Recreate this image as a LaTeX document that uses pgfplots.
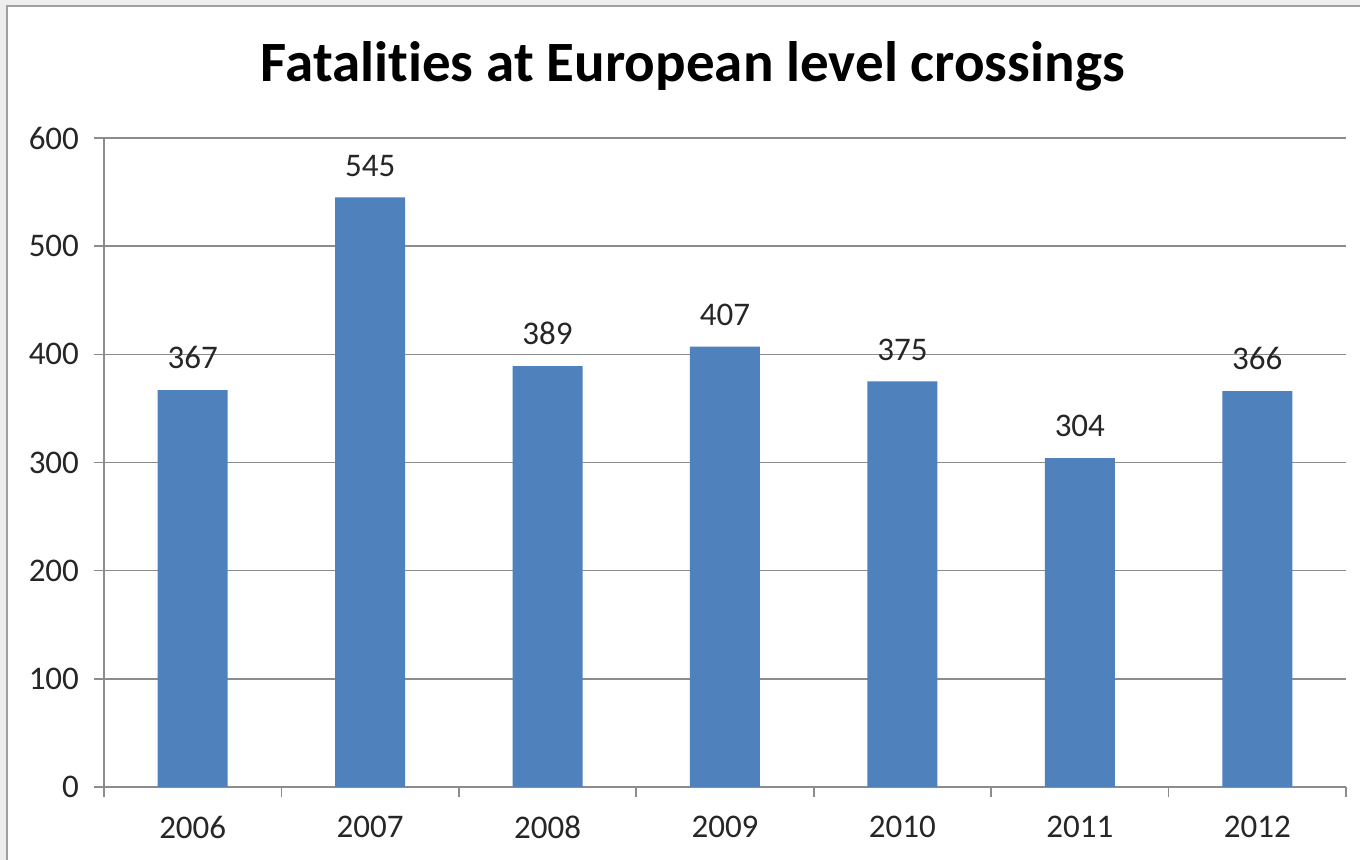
\documentclass[border=0pt]{standalone}
\usepackage{fontspec}
\setmainfont{Carlito}[Ligatures=NoCommon]
\usepackage{pgfplots}
\pgfplotsset{compat=1.18}
\definecolor{barblue}{HTML}{4F81BD}
\definecolor{gridgray}{HTML}{8C8C8C}
\definecolor{framegray}{HTML}{A0A0A0}
\definecolor{bggray}{HTML}{EEEEEE}
\begin{document}
\begin{tikzpicture}
\path[use as bounding box] (0pt,0pt) rectangle (680pt,430pt);
\fill[bggray] (0pt,0pt) rectangle (680pt,430pt);
\fill[white] (3.5pt,0pt) rectangle (680pt,427pt);
\draw[framegray, line width=0.8pt] (3.5pt,0pt) -- (3.5pt,427pt) -- (680pt,427pt);
\begin{axis}[
  at={(52pt,36.5pt)}, anchor=south west,
  scale only axis,
  width=621pt, height=324.5pt,
  xmin=-0.5, xmax=6.5,
  ymin=0, ymax=600,
  ytick={0,100,...,600},
  xtick={0,...,6},
  xticklabels={2006,2007,2008,2009,2010,2011,2012},
  minor xtick={-0.5,0.5,...,6.5},
  axis x line*=bottom, axis y line*=left,
  axis line style={gridgray, line width=0.8pt},
  ymajorgrids, major grid style={gridgray, line width=0.8pt},
  tick align=outside,
  major tick length=5pt, minor tick length=5pt,
  x tick style={draw=none},
  minor x tick style={draw=gridgray, line width=0.8pt},
  y tick style={gridgray, line width=0.8pt},
  tick label style={font=\fontsize{16.5pt}{19pt}\selectfont, text=black!85},
  /pgf/number format/assume math mode=true,
  yticklabel style={xshift=-4pt},
  xticklabel style={yshift=-6pt},
  title={\fontsize{28.5pt}{33pt}\selectfont\bfseries Fatalities at European level crossings},
  title style={at={(axis description cs:0.474,1.0678)}, anchor=base, inner sep=0pt},
  ybar, bar width=35pt,
  nodes near coords,
  nodes near coords style={font=\fontsize{16.5pt}{19pt}\selectfont, text=black!85, anchor=south, yshift=7pt},
  /pgf/number format/1000 sep={},
]
\addplot[fill=barblue, draw=none] coordinates {
(0,367) (1,545) (2,389) (3,407) (4,375) (5,304) (6,366)
};
\end{axis}
\end{tikzpicture}
\end{document}
